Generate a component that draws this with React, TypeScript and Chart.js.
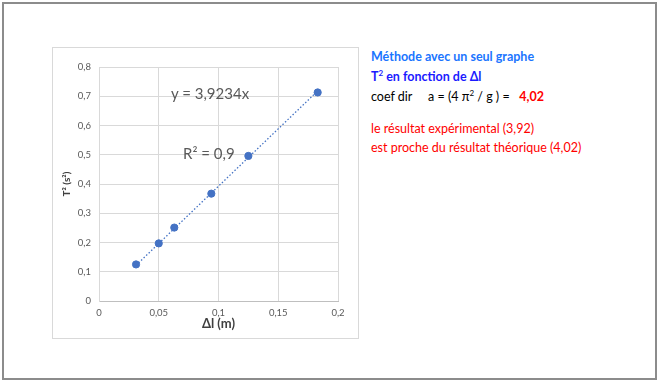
import React, { useEffect, useRef } from "react";
import { Chart, registerables } from "chart.js";

Chart.register(...registerables);

const deltaL = [0.031, 0.05, 0.063, 0.094, 0.125, 0.183];
const T2 = [0.125, 0.197, 0.251, 0.367, 0.496, 0.713];
const trendX = [0.031, 0.183];
const trendY = [0.122, 0.718];
const xTicks = [0, 0.05, 0.1, 0.15, 0.2];
const yTicks = [0, 0.1, 0.2, 0.3, 0.4, 0.5, 0.6, 0.7, 0.8];

const FONT = "Lato, 'Liberation Sans', sans-serif";
const fmt = (v: number) => String(Math.round(v * 100) / 100).replace(".", ",");

export default function App() {
  const ref = useRef<HTMLCanvasElement | null>(null);
  useEffect(() => {
    if (!ref.current) return;
    const chart = new Chart(ref.current, {
      type: "scatter",
      data: {
        datasets: [
          {
            type: "line",
            data: trendX.map((x, i) => ({ x, y: trendY[i] })),
            borderColor: "#4472C4",
            borderWidth: 1.3,
            borderDash: [1.5, 2],
            pointRadius: 0,
            fill: false,
          },
          {
            data: deltaL.map((x, i) => ({ x, y: T2[i] })),
            backgroundColor: "#4472C4",
            borderColor: "#4472C4",
            pointRadius: 3.6,
          },
        ],
      },
      options: {
        animation: false,
        responsive: false,
        maintainAspectRatio: false,
        layout: { padding: { left: 4, right: 20, top: 19, bottom: 2 } },
        plugins: { legend: { display: false }, tooltip: { enabled: false } },
        scales: {
          x: {
            type: "linear",
            min: 0,
            max: 0.2,
            afterBuildTicks: (s: any) => { s.ticks = xTicks.map((v) => ({ value: v })); },
            afterFit: (s: any) => { s.height = 35; },
            ticks: { color: "#595959", font: { family: FONT, size: 9.5 }, callback: (v: any) => fmt(Number(v)), padding: 6 },
            grid: { color: "#d9d9d9", drawTicks: false, lineWidth: 1 },
            border: { color: "#bfbfbf" },
            title: { display: true, text: "\u0394l (m)", color: "#404040", font: { family: FONT, size: 13, weight: "bold" }, padding: { top: 2 } },
          },
          y: {
            type: "linear",
            min: 0,
            max: 0.8,
            afterBuildTicks: (s: any) => { s.ticks = yTicks.map((v) => ({ value: v })); },
            afterFit: (s: any) => { s.width = 42; },
            ticks: { color: "#595959", font: { family: FONT, size: 9.5 }, callback: (v: any) => fmt(Number(v)), padding: 8 },
            grid: { color: "#d9d9d9", drawTicks: false, lineWidth: 1 },
            border: { color: "#d9d9d9" },
            title: { display: true, text: "T\u00b2 (s\u00b2)", color: "#404040", font: { family: FONT, size: 10, weight: "bold" }, padding: { bottom: 1 } },
          },
        },
      },
    } as any);
    return () => chart.destroy();
  }, []);

  const txt: React.CSSProperties = { position: "absolute", fontFamily: FONT, fontSize: 12.5, whiteSpace: "pre", lineHeight: "18px" };
  return (
    <div style={{ position: "absolute", left: 0, top: 0, width: 658, height: 381, background: "#fff" }}>
      <div style={{ position: "absolute", left: 2, top: 2, width: 651, height: 374, border: "2px solid #8c8c8c" }} />
      <div style={{ position: "absolute", left: 52, top: 47, width: 305, height: 290, border: "1px solid #d9d9d9" }}>
        <canvas ref={ref} width={305} height={290} style={{ display: "block" }} />
        <div style={{ position: "absolute", left: 118, top: 36, fontFamily: FONT, fontSize: 15, color: "#595959", whiteSpace: "pre" }}>y = 3,9234x</div>
        <div style={{ position: "absolute", left: 130, top: 96, fontFamily: FONT, fontSize: 15, color: "#595959", whiteSpace: "pre" }}>R² = 0,9</div>
      </div>
      <div style={{ ...txt, left: 371, top: 48, color: "#1a75ff", fontWeight: "bold" }}>Méthode avec un seul graphe</div>
      <div style={{ ...txt, left: 371, top: 64, color: "#1a1aff", fontWeight: "bold" }}>T<sup style={{ fontSize: 8 }}>2</sup> en fonction de Δl</div>
      <div style={{ ...txt, left: 371, top: 84, color: "#000" }}>
        coef dir     a = (4 π<sup style={{ fontSize: 8 }}>2</sup> / g ) =   <b style={{ color: "#ff0000" }}>4,02</b>
      </div>
      <div style={{ ...txt, left: 371, top: 120, color: "#ff0000" }}>le résultat expérimental (3,92)</div>
      <div style={{ ...txt, left: 371, top: 139, color: "#ff0000" }}>est proche du résultat théorique (4,02)</div>
    </div>
  );
}
